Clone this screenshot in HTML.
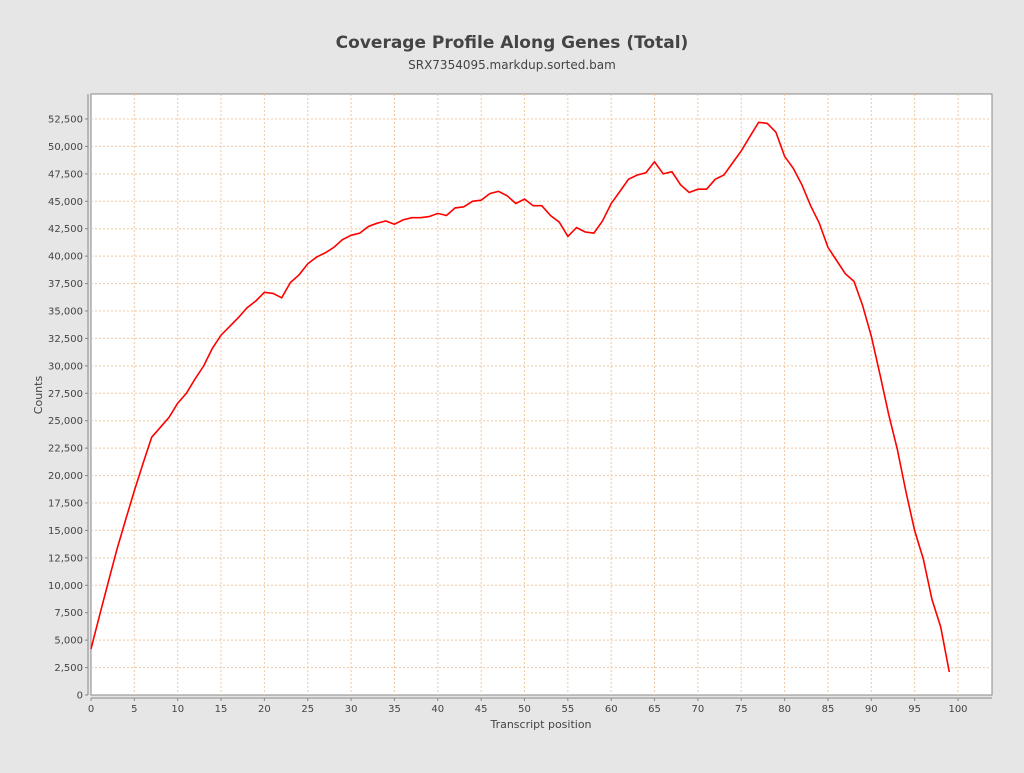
<!DOCTYPE html>
<html><head><meta charset="utf-8"><style>
body{margin:0;background:#e6e6e6;width:1024px;height:768px;overflow:hidden;font-family:"Liberation Sans","DejaVu Sans",sans-serif}
</style></head><body>
<svg width="1024" height="768" xmlns="http://www.w3.org/2000/svg" font-family="DejaVu Sans, Liberation Sans, sans-serif">
<text x="512" y="48" text-anchor="middle" font-size="17" font-weight="bold" fill="#444">Coverage Profile Along Genes (Total)</text>
<text x="512" y="69" text-anchor="middle" font-size="12" fill="#444">SRX7354095.markdup.sorted.bam</text>
<rect x="91" y="94" width="901" height="601" fill="#fff" stroke="#888"/>
<g id="g" stroke="#f0c8a0" stroke-dasharray="2,2" stroke-width="1"></g>
<g id="yl" font-size="10" fill="#444" text-anchor="end"></g>
<g id="xl" font-size="10" fill="#444" text-anchor="middle"></g>
<line x1="88" y1="94" x2="88" y2="695" stroke="#888"/>
<line x1="91" y1="698" x2="992" y2="698" stroke="#888"/>
<polyline id="p" fill="none" stroke="#ff0000" stroke-width="1.6"/>
<text x="541" y="728" text-anchor="middle" font-size="11" fill="#444">Transcript position</text>
<text x="42" y="395" text-anchor="middle" font-size="11" fill="#444" transform="rotate(-90 42 395)">Counts</text>
</svg>
<script>
var ns="http://www.w3.org/2000/svg";
function el(t,a,p,txt){var e=document.createElementNS(ns,t);for(var k in a)e.setAttribute(k,a[k]);if(txt!==undefined)e.textContent=txt;document.getElementById(p).appendChild(e);return e;}
var sx=function(i){return 91+8.67*i}, sy=function(v){return 695-v*576/52500};
for(var v=0;v<=52500;v+=2500){var y=sy(v);if(v>0)el('line',{x1:91,x2:992,y1:y,y2:y},'g');
el('text',{x:83,y:y+3.5},'yl',v.toLocaleString('en-US'));
var l=el('line',{x1:85,x2:88,y1:y,y2:y,stroke:'#888'},'yl');}
for(var i=0;i<=100;i+=5){var x=sx(i);if(i>0)el('line',{x1:x,x2:x,y1:94,y2:695},'g');
el('text',{x:x,y:712},'xl',i);el('line',{x1:x,x2:x,y1:698,y2:701,stroke:'#888'},'xl');}
var d=[4200,7300,10300,13300,16000,18600,21100,23500,24400,25300,26600,27500,28800,30000,31600,32800,33600,34400,35300,35900,36700,36600,36200,37600,38300,39300,39900,40300,40800,41500,41900,42100,42700,43000,43200,42900,43300,43500,43500,43600,43900,43700,44400,44500,45000,45100,45700,45900,45500,44800,45200,44600,44600,43700,43100,41800,42600,42200,42100,43200,44800,45900,47000,47400,47600,48600,47500,47700,46500,45800,46100,46100,47000,47400,48500,49600,50900,52200,52100,51300,49100,48000,46500,44600,43000,40800,39600,38400,37700,35500,32700,29200,25600,22400,18500,15000,12400,8700,6200,2100];
document.getElementById('p').setAttribute('points',d.map(function(v,i){return sx(i).toFixed(1)+','+sy(v).toFixed(1)}).join(' '));
</script>
</body></html>
